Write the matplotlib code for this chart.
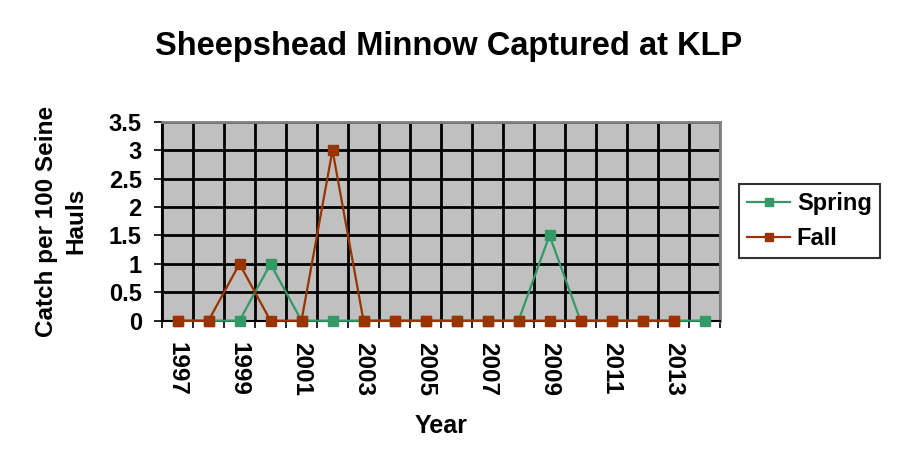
import matplotlib
matplotlib.use("Agg")
import matplotlib.pyplot as plt
import numpy as np

years = list(range(1997, 2015))
spring = [0, 0, 0, 1, 0, 0, 0, 0, 0, 0, 0, 0, 1.5, 0, 0, 0, 0, 0]
fall = [0, 0, 1, 0, 0, 3, 0, 0, 0, 0, 0, 0, 0, 0, 0, 0, 0, np.nan]
yticks = [0, 0.5, 1, 1.5, 2, 2.5, 3, 3.5]

plt.rcParams['font.family'] = ['Liberation Sans', 'DejaVu Sans']

fig = plt.figure(figsize=(8.98, 4.73), dpi=100)
ax = fig.add_axes([162/898, 1-320.7/473, (720-162)/898, (320.7-121.7)/473])
ax.set_facecolor('#C0C0C0')

x = np.arange(len(years))
ax.plot(x, spring, color='#339966', marker='s', markersize=7.5, linewidth=1.6,
        label='Spring', zorder=3, clip_on=False)
ax.plot(x, fall, color='#993300', marker='s', markersize=7.5, linewidth=1.6,
        label='Fall', zorder=4, clip_on=False)

ax.set_xlim(-0.5, len(years) - 0.5)
ax.set_ylim(0, 3.5)
ax.set_yticks(yticks)
ax.set_yticklabels([f"{v:g}" for v in yticks], fontsize=17, fontweight='bold')
ax.set_xticks(x[::2])
ax.set_xticklabels([str(y) for y in years[::2]], rotation=-90, fontsize=17.5, fontweight='bold')
ax.set_xticks(np.arange(-0.5, len(years), 1), minor=True)
ax.tick_params(axis='x', which='major', length=0, pad=15)
ax.tick_params(axis='x', which='minor', length=5, width=1.2, direction='out', color='black')
ax.tick_params(axis='y', length=6, width=1.2, direction='out', pad=8.5)

ax.grid(True, which='minor', axis='x', color='black', linewidth=2)
ax.grid(True, which='major', axis='y', color='black', linewidth=2)
ax.set_axisbelow(True)

for s in ['top', 'right']:
    ax.spines[s].set_color('#808080')
    ax.spines[s].set_linewidth(2)
for s in ['left', 'bottom']:
    ax.spines[s].set_color('black')
    ax.spines[s].set_linewidth(1.5)

fig.text(449/898, 1-47/473, 'Sheepshead Minnow Captured at KLP', ha='center', va='center',
         fontsize=23.5, fontweight='bold')
fig.text(441/898, 1-426/473, 'Year', ha='center', va='center', fontsize=18, fontweight='bold')
fig.text(61/898, 1-221/473, 'Catch per 100 Seine\nHauls', ha='center', va='center', rotation=90,
         fontsize=17.5, fontweight='bold', linespacing=1.35)

leg = fig.legend(loc='center', bbox_to_anchor=(809.5/898, 1-221/473), frameon=True, fancybox=False,
                 prop={'size': 17, 'weight': 'bold'}, handlelength=1.8, borderpad=0.35,
                 labelspacing=0.5, handletextpad=0.3, borderaxespad=0, markerscale=0.8)
leg.get_frame().set_edgecolor('black')
leg.get_frame().set_linewidth(1.5)

fig.savefig('out.png', dpi=100)
